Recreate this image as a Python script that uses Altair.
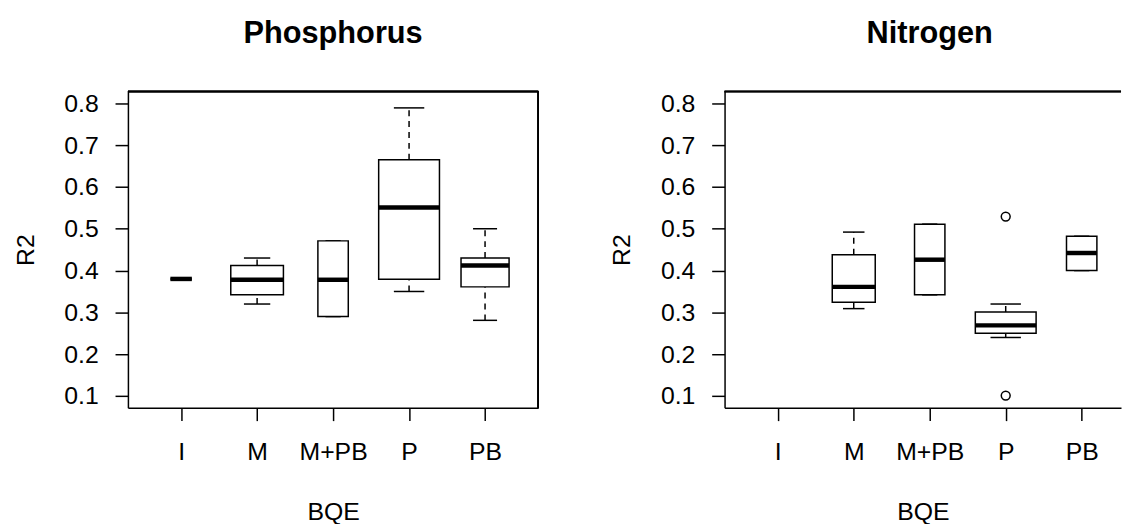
import math
import altair as alt
import pandas as pd

# ---- data ----
categories = ["I", "M", "M+PB", "P", "PB"]

# Phosphorus panel (n = group sizes)
p_n = [1, 6, 2, 8, 5]
p_low = [0.380, 0.320, 0.290, 0.350, 0.281]
p_q1 = [0.380, 0.342, 0.290, 0.379, 0.361]
p_med = [0.380, 0.378, 0.378, 0.551, 0.412]
p_q3 = [0.380, 0.412, 0.471, 0.665, 0.430]
p_high = [0.380, 0.430, 0.471, 0.789, 0.500]
p_out_cat = []
p_out_val = []

# Nitrogen panel (no data for "I")
n_n = [0, 4, 2, 8, 2]
n_low = [None, 0.309, 0.342, 0.240, 0.400]
n_q1 = [None, 0.324, 0.342, 0.250, 0.400]
n_med = [None, 0.361, 0.426, 0.269, 0.442]
n_q3 = [None, 0.438, 0.511, 0.301, 0.482]
n_high = [None, 0.492, 0.511, 0.320, 0.482]
n_out_cat = ["P", "P"]
n_out_val = [0.529, 0.101]

y_ticks = [0.1, 0.2, 0.3, 0.4, 0.5, 0.6, 0.7, 0.8]

# ---- layout / style ----
FONT = "Liberation Sans"
FS = 25
H = 319
W_LEFT = 414
W_RIGHT = 400
PX_PER_UNIT = W_LEFT / 5.4
Y_DOMAIN = [0.072, 0.828]
LW = 1.5

label_expr = "[" + ",".join("'" + c + "'" for c in categories) + "][datum.value - 1]"


def build_frame(n, low, q1, med, q3, high):
    nmax = max(n)
    rows = []
    for i, c in enumerate(categories):
        if not n[i]:
            continue
        hw = 0.4 * math.sqrt(n[i] / nmax)
        rows.append(dict(cat=c, pos=i + 1, low=low[i], q1=q1[i], med=med[i],
                         q3=q3[i], high=high[i], xl=i + 1 - hw, xr=i + 1 + hw,
                         cl=i + 1 - hw / 2, cr=i + 1 + hw / 2))
    return pd.DataFrame(rows)


def panel(title, n, low, q1, med, q3, high, out_cat, out_val, width, right_border, dx):
    df = build_frame(n, low, q1, med, q3, high)
    xs = alt.Scale(domain=[0.3, 0.3 + width / PX_PER_UNIT], nice=False, zero=False)
    ys = alt.Scale(domain=Y_DOMAIN, nice=False, zero=False)
    xaxis = alt.Axis(values=[1, 2, 3, 4, 5], labelExpr=label_expr, title="BQE",
                     grid=False, tickSize=13, tickWidth=LW, tickColor="black",
                     domainColor="black", domainWidth=LW, labelFont=FONT,
                     labelFontSize=FS, labelColor="black", labelPadding=19,
                     titleFont=FONT, titleFontSize=FS, titleFontWeight="normal",
                     titleColor="black", titlePadding=36, labelFlush=False)
    yaxis = alt.Axis(values=y_ticks, format=".1f", title="R2", grid=False,
                     tickSize=13, tickWidth=LW, tickColor="black",
                     domainColor="black", domainWidth=LW, labelFont=FONT,
                     labelFontSize=FS, labelColor="black", labelPadding=17,
                     titleFont=FONT, titleFontSize=FS, titleFontWeight="normal",
                     titleColor="black", titlePadding=26, labelFlush=False)

    def X(f):
        return alt.X(f, scale=xs, axis=xaxis)

    def Y(f):
        return alt.Y(f, scale=ys, axis=yaxis)

    base = alt.Chart(df)

    up = base.transform_filter("datum.high > datum.q3").mark_rule(
        color="black", strokeWidth=LW, strokeDash=[6, 5]).encode(
        x=X("pos:Q"), y=Y("q3:Q"), y2="high:Q")
    lo = base.transform_filter("datum.low < datum.q1").mark_rule(
        color="black", strokeWidth=LW, strokeDash=[6, 5]).encode(
        x=X("pos:Q"), y=Y("low:Q"), y2="q1:Q")
    cap_hi = base.mark_rule(color="black", strokeWidth=LW).encode(
        x=X("cl:Q"), x2="cr:Q", y=Y("high:Q"))
    cap_lo = base.mark_rule(color="black", strokeWidth=LW).encode(
        x=X("cl:Q"), x2="cr:Q", y=Y("low:Q"))
    box = base.mark_rect(fill="white", stroke="black", strokeWidth=LW).encode(
        x=X("xl:Q"), x2="xr:Q", y=Y("q1:Q"), y2="q3:Q")
    median = base.mark_rule(color="black", strokeWidth=4.5).encode(
        x=X("xl:Q"), x2="xr:Q", y=Y("med:Q"))
    layers = [up, lo, cap_hi, cap_lo, box, median]

    if out_cat:
        odf = pd.DataFrame({"pos": [categories.index(c) + 1 for c in out_cat],
                            "val": out_val})
        pts = alt.Chart(odf).mark_point(shape="circle", filled=False, color="black",
                                        strokeWidth=LW, size=80, opacity=1).encode(
            x=X("pos:Q"), y=Y("val:Q"))
        layers.append(pts)

    top = alt.Chart(df).mark_rule(color="black", strokeWidth=LW).encode(
        x=alt.value(0), x2=alt.value(width), y=alt.value(0))
    layers.append(top)
    if right_border:
        rb = alt.Chart(df).mark_rule(color="black", strokeWidth=LW).encode(
            x=alt.value(width), y=alt.value(0), y2=alt.value(H))
        layers.append(rb)

    return alt.layer(*layers).properties(
        width=width, height=H,
        title=alt.TitleParams(title, font=FONT, fontSize=31, fontWeight="bold",
                              color="black", anchor="middle", offset=41, dx=dx))


left = panel("Phosphorus", p_n, p_low, p_q1, p_med, p_q3, p_high,
             p_out_cat, p_out_val, W_LEFT, True, 0)
right = panel("Nitrogen", n_n, n_low, n_q1, n_med, n_q3, n_high,
              n_out_cat, n_out_val, W_RIGHT, False, (W_LEFT - W_RIGHT) / 2)

chart = alt.hconcat(left, right, spacing=71).properties(
    padding={"left": 5, "top": 8, "right": 0, "bottom": 0},
    background="white",
).configure_view(stroke=None)

chart.save("out.html", embed_options={"renderer": "svg", "actions": False})
